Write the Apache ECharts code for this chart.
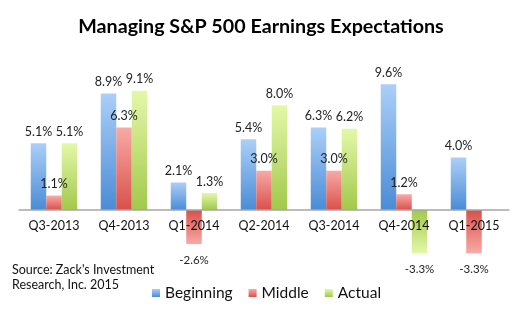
<!DOCTYPE html>
<html><head><meta charset="utf-8">
<script src="https://cdn.jsdelivr.net/npm/echarts@6/dist/echarts.min.js"></script>
<style>html,body{margin:0;padding:0;background:#fff}#c{width:522px;height:324px}</style>
</head><body><div id="c"></div>
<script>
const categories = ['Q3-2013','Q4-2013','Q1-2014','Q2-2014','Q3-2014','Q4-2014','Q1-2015'];
const beginning = [5.1, 8.9, 2.1, 5.4, 6.3, 9.6, 4.0];
const middle = [1.1, 6.3, -2.6, 3.0, 3.0, 1.2, -3.3];
const actual = [5.1, 9.1, 1.3, 8.0, 6.2, -3.3, null];
const seriesNames = ['Beginning','Middle','Actual'];
const colorsTop = ['#abcff8','#f8aaa6','#e4f8a8'];
const colorsBottom = ['#4a8cd6','#d9504b','#a2c84c'];
const FONT = 'Lato';

function grad(i, neg){
  return new echarts.graphic.LinearGradient(0, neg?1:0, 0, neg?0:1, [
    {offset:0,color:colorsTop[i]},{offset:1,color:colorsBottom[i]}]);
}
function mk(name, vals, i){
  return {
    name, type:'bar', barWidth:15.5, barGap:'0%', clip:false,
    itemStyle:{color:grad(i,false)},
    data: vals.map(v => v===null ? null : ({
      value:v,
      itemStyle:{color:grad(i, v<0)},
      label: v<0 ? {position:'bottom', distance:10, fontSize:11.5} : {}
    })),
    labelLayout:{hideOverlap:false, moveOverlap:null},
    label:{show:true, position:'top', distance:5, fontSize:12.5, color:'#222',
      fontFamily:FONT, formatter:p=>p.value.toFixed(1)+'%'}
  };
}
const chart = echarts.init(document.getElementById('c'));
chart.setOption({
  animation:false,
  title:{text:'Managing S&P 500 Earnings Expectations', left:'center', top:12,
    textStyle:{fontFamily:FONT, fontWeight:'bold', fontSize:19.7, color:'#000'}},
  graphic:[{type:'text', left:12, top:263, style:{text:"Source: Zack's Investment\nResearch, Inc. 2015",
    font:'12.5px Lato', fill:'#111', lineHeight:14.5}}],
  legend:{data:seriesNames, left:152, top:285, padding:0, itemWidth:8, itemHeight:8, itemGap:16,
    icon:'rect', textStyle:{fontFamily:FONT, fontSize:15.5, color:'#111'}},
  grid:{left:19, right:13, top:79, height:131},
  xAxis:{type:'category', data:categories, z:5,
    axisLine:{onZero:false, lineStyle:{color:'#a6a6a6', width:1.5}},
    axisTick:{show:false},
    axisLabel:{margin:9, fontSize:12.5, color:'#111', fontFamily:FONT, interval:0, hideOverlap:false}},
  yAxis:{type:'value', min:0, max:10, show:false, splitLine:{show:false}},
  series:[mk('Beginning',beginning,0), mk('Middle',middle,1), mk('Actual',actual,2)]
});
</script></body></html>
